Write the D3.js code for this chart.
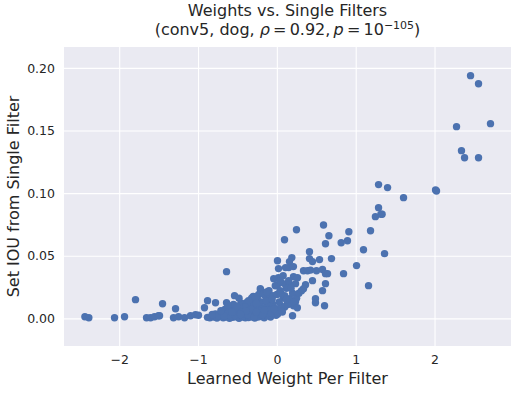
<!DOCTYPE html>
<html>
<head>
<meta charset="utf-8">
<script src="https://cdn.jsdelivr.net/npm/d3@7"></script>
<style>
  html, body { margin: 0; padding: 0; background: #ffffff; }
  svg { display: block; font-family: "DejaVu Sans", sans-serif; }
</style>
</head>
<body>
<svg id="chart" width="517" height="393"></svg>
<script>
// ---- Data ----
const xTicks = [-2, -1, 0, 1, 2];
const yTicks = [0.00, 0.05, 0.10, 0.15, 0.20];

// Outlying / sparse points
const weightsSparse = [
  2.457, 2.558, 2.279, 2.710, 2.342, 2.381, 2.558,
  1.290, 1.404, 1.607, 2.013, 2.025,
  1.290, 1.320, 1.250, 1.335, 1.188, 0.913, 0.896, 0.816,
  0.592, 0.660, 0.617, 0.249, 0.097, 1.099, 1.366, 1.011, 0.846, 1.163,
  0.693, 0.414, 0.541, 0.414, 0.452,
  0.190, 0.160, 0.150, 0.110, 0.210, 0.008, 0.021,
  0.338, 0.389, 0.427, 0.503, 0.579, 0.617, 0.643,
  0.211, 0.262, 0.237, 0.452, 0.364, 0.338, 0.313, 0.617, 0.579,
  -0.040, 0.020, 0.008, 0.060, 0.110, 0.160,
  0.490, 0.490, 0.605, 0.199, 0.160, 0.237, 0.211, 0.135,
  -0.638, -0.207, -0.537, -0.385,
  -1.793, -1.450, -1.285, -0.879, -0.778, -0.918, -0.638,
  -2.435, -2.385, -2.059, -1.932,
  -1.653, -1.602, -1.552, -1.501, -1.488,
  -1.311, -1.247, -1.171, -1.095, -1.032, -0.994
];
const iouSparse = [
  0.1938, 0.1874, 0.1531, 0.1555, 0.1339, 0.1283, 0.1283,
  0.1068, 0.1044, 0.0964, 0.1025, 0.1017,
  0.0884, 0.0831, 0.0812, 0.0831, 0.0700, 0.0692, 0.0620, 0.0604,
  0.0745, 0.0660, 0.0596, 0.0708, 0.0628, 0.0548, 0.0517, 0.0421, 0.0357, 0.0261,
  0.0477, 0.0532, 0.0469, 0.0477, 0.0453,
  0.0485, 0.0453, 0.0405, 0.0405, 0.0413, 0.0460, 0.0397,
  0.0380, 0.0380, 0.0385, 0.0380, 0.0390, 0.0357, 0.0357,
  0.0333, 0.0325, 0.0277, 0.0301, 0.0269, 0.0237, 0.0221, 0.0277, 0.0221,
  0.0317, 0.0325, 0.0269, 0.0285, 0.0269, 0.0269,
  0.0157, 0.0125, 0.0101, 0.0021, 0.0157, 0.0133, 0.0101, 0.0117,
  0.0373, 0.0229, 0.0181, 0.0125,
  0.0149, 0.0117, 0.0077, 0.0141, 0.0125, 0.0085, 0.0125,
  0.0013, 0.0005, 0.0005, 0.0013,
  0.0005, 0.0005, 0.0013, 0.0021, 0.0021,
  0.0005, 0.0013, 0.0005, 0.0021, 0.0029, 0.0025
];

// Dense cluster near zero weight
const weightsCluster = [
  -0.85, -0.80, -0.76, -0.72, -0.68, -0.64, -0.60, -0.56, -0.52, -0.48,
  -0.44, -0.40, -0.36, -0.32, -0.28, -0.24, -0.20, -0.16, -0.08, -0.12,
  -0.78, -0.70, -0.62, -0.55, -0.50, -0.45, -0.38, -0.30, -0.25, -0.18,
  -0.12, -0.05, 0.00, -0.66, -0.58, -0.50, -0.42, -0.35, -0.28, -0.22,
  -0.15, -0.10, -0.03, 0.02, -0.55, -0.45, -0.38, -0.30, -0.20, -0.12,
  -0.05, 0.05, -0.48, -0.30, -0.25, -0.15, -0.08, 0.00, 0.08,
  -0.10, 0.05, 0.10, 0.12, 0.20, 0.25, 0.28, -0.02, 0.04, 0.08,
  -0.05, 0.15, -0.21, -0.23, -0.17, -0.13, -0.27, -0.32, 0.04, 0.18,
  -0.60, -0.42, -0.34, -0.26, -0.14, -0.06, 0.03, -0.46, -0.54, -0.36,
  -0.70, -0.64, -0.40, -0.22, 0.10, 0.14, 0.22, 0.26, -0.09, -0.01,
  -0.74, -0.58, -0.31, -0.19, 0.06, -0.40, -0.48, -0.33, -0.11, 0.12,
  -0.88, -0.82, -0.67, -0.53, -0.43, -0.37, -0.29, -0.18, -0.07, 0.01,
  -0.62, -0.51, -0.39, -0.26, -0.16, -0.04, 0.07, -0.71, -0.57, -0.46
];
const iouCluster = [
  0.0005, 0.0010, 0.0002, 0.0015, 0.0005, 0.0010, 0.0000, 0.0008, 0.0012, 0.0000,
  0.0010, 0.0004, 0.0006, 0.0012, 0.0002, 0.0010, 0.0015, 0.0005, 0.0010, 0.0020,
  0.0035, 0.0040, 0.0045, 0.0038, 0.0042, 0.0050, 0.0036, 0.0044, 0.0048, 0.0040,
  0.0055, 0.0045, 0.0050, 0.0070, 0.0078, 0.0082, 0.0075, 0.0085, 0.0080, 0.0090,
  0.0085, 0.0095, 0.0080, 0.0070, 0.0110, 0.0120, 0.0125, 0.0115, 0.0130, 0.0120,
  0.0110, 0.0100, 0.0160, 0.0175, 0.0160, 0.0185, 0.0170, 0.0190, 0.0165,
  0.0220, 0.0200, 0.0180, 0.0240, 0.0200, 0.0160, 0.0200, 0.0260, 0.0300, 0.0340,
  0.0180, 0.0300, 0.0237, 0.0190, 0.0195, 0.0210, 0.0170, 0.0160, 0.0220, 0.0240,
  0.0060, 0.0090, 0.0100, 0.0120, 0.0140, 0.0150, 0.0130, 0.0065, 0.0055, 0.0140,
  0.0025, 0.0030, 0.0020, 0.0060, 0.0090, 0.0110, 0.0130, 0.0085, 0.0030, 0.0025,
  0.0020, 0.0015, 0.0030, 0.0025, 0.0060, 0.0090, 0.0100, 0.0070, 0.0065, 0.0150,
  0.0008, 0.0030, 0.0018, 0.0022, 0.0016, 0.0028, 0.0008, 0.0030, 0.0040, 0.0035,
  0.0105, 0.0095, 0.0060, 0.0050, 0.0065, 0.0075, 0.0050, 0.0060, 0.0050, 0.0030
];

const xs = weightsSparse.concat(weightsCluster);
const ys = iouSparse.concat(iouCluster);
const points = xs.map((x, i) => ({ x: x, y: ys[i] }));

// ---- Layout ----
const svg = d3.select("#chart");
const plot = { left: 64, right: 511, top: 47, bottom: 346 };
const textColor = "#262626";

const x = d3.scaleLinear().domain([-2.70, 2.97]).range([plot.left, plot.right]);
const y = d3.scaleLinear().domain([-0.0221, 0.2167]).range([plot.bottom, plot.top]);

// background
svg.append("rect")
  .attr("x", plot.left).attr("y", plot.top)
  .attr("width", plot.right - plot.left).attr("height", plot.bottom - plot.top)
  .attr("fill", "#eaeaf2");

// grid via axes
const gx = svg.append("g")
  .attr("transform", `translate(0,${plot.bottom})`)
  .call(d3.axisBottom(x).tickValues(xTicks).tickSize(-(plot.bottom - plot.top))
    .tickFormat(d => d3.format("d")(d).replace("-", "\u2212")));
const gy = svg.append("g")
  .attr("transform", `translate(${plot.left},0)`)
  .call(d3.axisLeft(y).tickValues(yTicks).tickSize(-(plot.right - plot.left))
    .tickFormat(d3.format(".2f")));

[gx, gy].forEach(g => {
  g.select(".domain").remove();
  g.selectAll(".tick line").attr("stroke", "#ffffff").attr("stroke-width", 1.1);
  g.selectAll(".tick text").attr("fill", textColor).attr("font-size", "12.5px")
    .attr("font-family", "DejaVu Sans, sans-serif");
});
gx.selectAll(".tick text").attr("dy", null).attr("y", 17.5);
gy.selectAll(".tick text").attr("x", -9).attr("dy", "0.34em");

// points
svg.append("g").selectAll("circle")
  .data(points)
  .join("circle")
  .attr("cx", d => x(d.x))
  .attr("cy", d => y(d.y))
  .attr("r", 3.7)
  .attr("fill", "#4c72b0");

// title (two lines)
const cx = (plot.left + plot.right) / 2;
svg.append("text")
  .attr("x", cx).attr("y", 15.5)
  .attr("text-anchor", "middle")
  .attr("font-size", "16px").attr("fill", textColor)
  .text("Weights vs. Single Filters");
const t2 = svg.append("text")
  .attr("x", cx).attr("y", 34.5)
  .attr("text-anchor", "middle")
  .attr("font-size", "16px").attr("fill", textColor);
t2.append("tspan").text("(conv5, dog, ");
t2.append("tspan").attr("font-style", "italic").text("\u03C1");
t2.append("tspan").text("\u2009=\u20090.92,\u2009");
t2.append("tspan").attr("font-style", "italic").text("p");
t2.append("tspan").text("\u2009=\u200910");
t2.append("tspan").attr("font-size", "11px").attr("dy", -6).text("\u2212105");
t2.append("tspan").attr("dy", 6).text(")");

// axis labels
svg.append("text")
  .attr("x", cx).attr("y", 383.5)
  .attr("text-anchor", "middle")
  .attr("font-size", "16px").attr("fill", textColor)
  .text("Learned Weight Per Filter");

svg.append("text")
  .attr("transform", `translate(19,${(plot.top + plot.bottom) / 2}) rotate(-90)`)
  .attr("text-anchor", "middle")
  .attr("font-size", "16px").attr("fill", textColor)
  .text("Set IOU from Single Filter");
</script>
</body>
</html>
